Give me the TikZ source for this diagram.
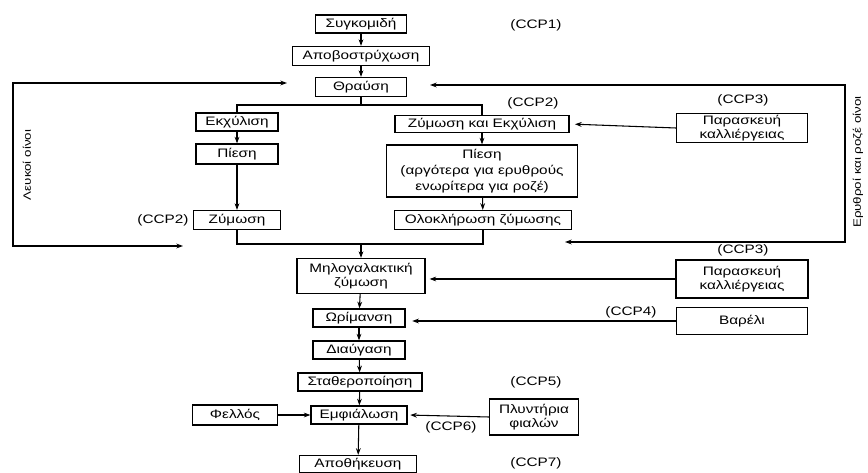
\documentclass[tikz,border=0pt]{standalone}
\usepackage{fontspec}
\setmainfont[FakeStretch=1.25]{Liberation Sans}
\usetikzlibrary{arrows.meta}
\begin{document}
\begin{tikzpicture}[x=0.75pt,y=-0.75pt,
  box/.style={draw,line width=0.9pt,inner sep=0pt,align=center,font=\fontsize{9.2}{11}\selectfont},
  lbl/.style={inner sep=0pt,font=\fontsize{9.2}{11}\selectfont},
  vlbl/.style={inner sep=0pt,rotate=90,font=\fontsize{8}{10}\selectfont},
  conn/.style={line width=0.8pt},
  arr/.style={conn,-{Stealth[length=5pt,width=3.6pt]}},
  darr/.style={conn,{Stealth[length=5pt,width=3.6pt]}-{Stealth[length=5pt,width=3.6pt]}}]
\useasboundingbox[fill=white] (0,0) rectangle (868,473);
% main boxes
\node[box,minimum width=91*0.75pt,minimum height=18*0.75pt] (syg) at (361,24) {Συγκομιδή};
\node[box,minimum width=137*0.75pt,minimum height=19*0.75pt] (apo) at (361,56) {Αποβοστρύχωση};
\node[box,minimum width=91*0.75pt,minimum height=19*0.75pt] (thr) at (361,87) {Θραύση};
\node[box,minimum width=82*0.75pt,minimum height=18*0.75pt] (ekx) at (237,122) {Εκχύλιση};
\node[box,minimum width=82*0.75pt,minimum height=20*0.75pt] (pie1) at (237,154) {Πίεση};
\node[box,minimum width=87*0.75pt,minimum height=19*0.75pt] (zym) at (237,220) {Ζύμωση};
\node[box,minimum width=174*0.75pt,minimum height=17*0.75pt] (zke) at (482,124) {Ζύμωση και Εκχύλιση};
\node[box,minimum width=191*0.75pt,minimum height=52*0.75pt,font=\fontsize{9.2}{12}\selectfont] (pie2) at (482,171) {Πίεση\\(αργότερα για ερυθρούς\\ενωρίτερα για ροζέ)};
\node[box,minimum width=177*0.75pt,minimum height=19*0.75pt] (olo) at (483,220) {Ολοκλήρωση ζύμωσης};
\node[box,minimum width=131*0.75pt,minimum height=29*0.75pt] (par1) at (742,128) {Παρασκευή\\καλλιέργειας};
\node[box,minimum width=128*0.75pt,minimum height=35*0.75pt] (mil) at (361,276) {Μηλογαλακτική\\ζύμωση};
\node[box,minimum width=132*0.75pt,minimum height=38*0.75pt] (par2) at (742,279) {Παρασκευή\\καλλιέργειας};
\node[box,minimum width=92*0.75pt,minimum height=18*0.75pt] (ori) at (359,318) {Ωρίμανση};
\node[box,minimum width=131*0.75pt,minimum height=27*0.75pt] (bar) at (742,321) {Βαρέλι};
\node[box,minimum width=92*0.75pt,minimum height=18*0.75pt] (dia) at (359,350) {Διαύγαση};
\node[box,minimum width=124*0.75pt,minimum height=18*0.75pt] (sta) at (360,382) {Σταθεροποίηση};
\node[box,minimum width=96*0.75pt,minimum height=18*0.75pt] (emf) at (359,415) {Εμφιάλωση};
\node[box,minimum width=85*0.75pt,minimum height=20*0.75pt] (fel) at (235,415) {Φελλός};
\node[box,minimum width=89*0.75pt,minimum height=36*0.75pt] (ply) at (534,417) {Πλυντήρια\\φιαλών};
\node[box,minimum width=117*0.75pt,minimum height=17*0.75pt] (apt) at (358,464) {Αποθήκευση};
% CCP labels
\node[lbl] (c1) at (536,25) {(CCP1)};
\node[lbl] (c2r) at (533,103) {(CCP2)};
\node[lbl] (c2l) at (163,220) {(CCP2)};
\node[lbl] (c3a) at (743,100) {(CCP3)};
\node[lbl] (c3b) at (743,250) {(CCP3)};
\node[lbl] (c4) at (631,312) {(CCP4)};
\node[lbl] (c5) at (536,382) {(CCP5)};
\node[lbl] (c6) at (451,427) {(CCP6)};
\node[lbl] (c7) at (536,463) {(CCP7)};
% vertical labels
\node[vlbl] (wl) at (27,165) {Λευκοί οίνοι};
\node[vlbl] (wr) at (858,162) {Ερυθροί και ροζέ οίνοι};
% junctions
\coordinate (j1) at (361,105);
\coordinate (j2) at (361,244);
% main chain
\draw[arr] (syg) -- (apo);
\draw[arr] (apo) -- (thr);
\draw[conn] (thr) -- (j1);
\draw[conn] (ekx.north) |- (j1) -| (zke.north);
\draw[arr] (ekx) -- (pie1);
\draw[arr] (pie1) -- (zym);
\draw[arr] (zke) -- (pie2);
\draw[arr] (pie2) -- (olo);
\draw[conn] (zym.south) |- (j2) -| (olo.south);
\draw[arr] (j2) -- (mil);
\draw[arr] (mil) -- (ori);
\draw[arr] (ori) -- (dia);
\draw[arr] (dia) -- (sta);
\draw[arr] (sta) -- (emf);
\draw[arr] (emf) -- (apt);
\draw[arr] (fel) -- (emf);
% side inputs
\draw[arr,shorten >=4pt] (par1.west) -- (zke.east);
\draw[arr,shorten >=3pt] (par2.west) -- (mil.east |- par2.west);
\draw[arr,shorten >=5pt] (bar.west) -- (ori.east |- bar.west);
\draw[arr,shorten >=2pt] (ply.west) -- (emf.east);
% feedback loops
\coordinate (la) at (287,83);
\coordinate (lc1) at (13,83);
\coordinate (lc2) at (13,246);
\coordinate (lb) at (183,246);
\draw[darr] (la) -- (lc1) -- (lc2) -- (lb);
\coordinate (ra) at (430,85);
\coordinate (rc1) at (845,85);
\coordinate (rc2) at (845,242);
\coordinate (rb) at (565,242);
\draw[darr] (ra) -- (rc1) -- (rc2) -- (rb);
\end{tikzpicture}
\end{document}
